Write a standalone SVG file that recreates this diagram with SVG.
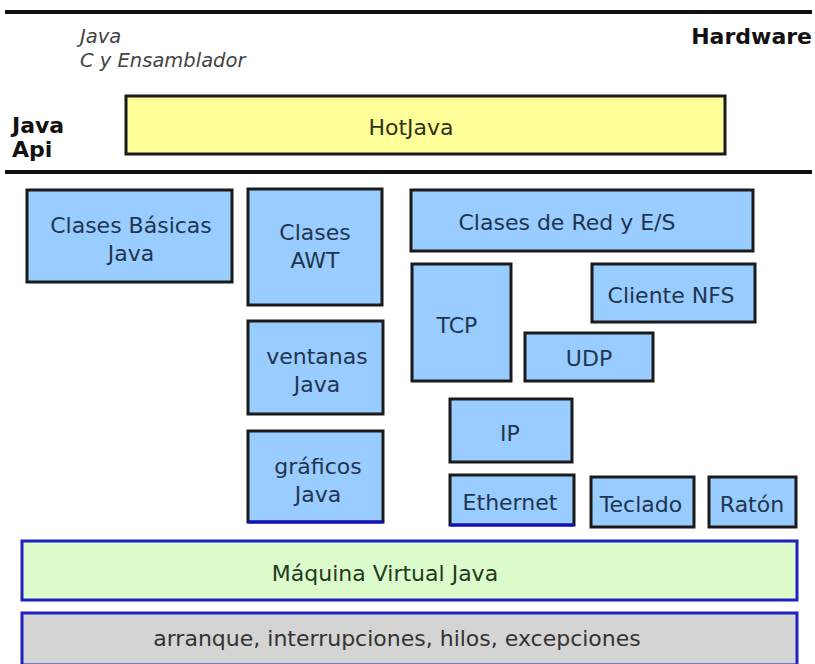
<svg xmlns="http://www.w3.org/2000/svg" width="815" height="664" viewBox="0 0 815 664">
<style>
.box{fill:#99ccff;stroke:#1a1a1a;stroke-width:3}
.t{font-family:"DejaVu Sans",Verdana,sans-serif;font-size:22px;fill:#1f3550;text-anchor:middle}
.hdr{font-family:"DejaVu Sans",Verdana,sans-serif;font-size:22px;font-weight:bold;fill:#111}
.it{font-family:"DejaVu Sans",Verdana,sans-serif;font-size:19.5px;font-style:italic;fill:#444}
.rule{stroke:#111;stroke-width:4}
</style>
<rect width="815" height="664" fill="#fff"/>
<line class="rule" x1="5" y1="12" x2="812" y2="12"/>
<line class="rule" x1="5" y1="172" x2="812" y2="172"/>
<text class="it" x="80" y="43">Java</text>
<text class="it" x="80" y="67">C y Ensamblador</text>
<text class="hdr" x="812" y="44" text-anchor="end">Hardware</text>
<text class="hdr" x="12" y="133">Java</text>
<text class="hdr" x="12" y="157">Api</text>
<g id="hotjava"><rect x="126" y="96" width="599" height="58" fill="#ffff99" stroke="#1a1a1a" stroke-width="3"/><text class="t" x="411" y="135" style="fill:#333318">HotJava</text></g>
<g id="basicas"><rect class="box" x="27" y="190" width="205" height="92"/><text class="t" x="131" y="233">Clases Básicas</text><text class="t" x="131" y="261">Java</text></g>
<g id="awt"><rect class="box" x="248" y="189" width="134" height="116"/><text class="t" x="315" y="240">Clases</text><text class="t" x="315" y="268">AWT</text></g>
<g id="ventanas"><rect class="box" x="248" y="321" width="135" height="93"/><text class="t" x="317" y="364">ventanas</text><text class="t" x="317" y="392">Java</text></g>
<g id="graficos"><rect class="box" x="248" y="431" width="135" height="91"/><line x1="248" y1="522" x2="383" y2="522" stroke="#1010cc" stroke-width="3"/><text class="t" x="318" y="474">gráficos</text><text class="t" x="318" y="502">Java</text></g>
<g id="red"><rect class="box" x="411" y="190" width="342" height="61"/><text class="t" x="567" y="230">Clases de Red y E/S</text></g>
<g id="tcp"><rect class="box" x="412" y="264" width="99" height="117"/><text class="t" x="457" y="333">TCP</text></g>
<g id="nfs"><rect class="box" x="592" y="264" width="163" height="58"/><text class="t" x="671" y="303">Cliente NFS</text></g>
<g id="udp"><rect class="box" x="525" y="333" width="128" height="48"/><text class="t" x="589" y="366">UDP</text></g>
<g id="ip"><rect class="box" x="450" y="399" width="122" height="63"/><text class="t" x="510" y="441">IP</text></g>
<g id="ethernet"><rect class="box" x="450" y="475" width="124" height="50"/><line x1="450" y1="525" x2="574" y2="525" stroke="#1010cc" stroke-width="3"/><text class="t" x="510" y="510">Ethernet</text></g>
<g id="teclado"><rect class="box" x="591" y="477" width="103" height="50"/><text class="t" x="641" y="512">Teclado</text></g>
<g id="raton"><rect class="box" x="709" y="477" width="87" height="50"/><text class="t" x="752" y="512">Ratón</text></g>
<g id="maquina"><rect x="22" y="541" width="775" height="59" fill="#ddfccc" stroke="#2020c0" stroke-width="3"/><text class="t" x="385" y="581" style="fill:#223a22">Máquina Virtual Java</text></g>
<g id="arranque"><rect x="22" y="613" width="775" height="52" fill="#d4d4d4" stroke="#2020c0" stroke-width="3"/><text class="t" x="397" y="646" style="fill:#333">arranque, interrupciones, hilos, excepciones</text></g>
<g id="connectors"></g>
</svg>
